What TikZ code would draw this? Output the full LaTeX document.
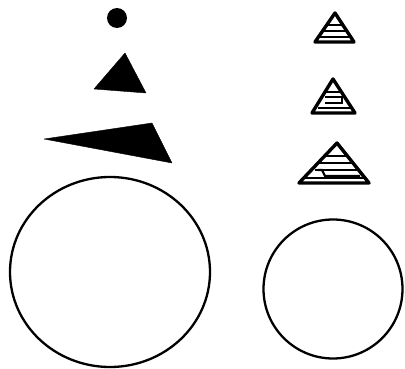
\documentclass[tikz,border=0pt]{standalone}
\begin{document}
\begin{tikzpicture}[x=1pt,y=-1pt,
  solid/.style={fill=black,draw=black,line join=round},
  ring/.style={draw=black,line width=2.3pt},
  htri/.style={draw=black,line width=3.4pt,line join=round},
  stripe/.style={draw=black,line width=2.2pt}]
\useasboundingbox (0,0) rectangle (405,369);
% left column, solid
\fill[black] (117,18) circle (10);
\filldraw[solid] (125,53) -- (94,89) -- (146,93) -- cycle;
\filldraw[solid] (44,139) -- (152,123) -- (172,163) -- cycle;
\draw[ring] (110,272) ellipse [x radius=100, y radius=95];
% right column, hatched triangles
\draw[htri] (335,13) -- (315,42) -- (354,42) -- cycle;
\begin{scope}
  \clip (335,13) -- (315,42) -- (354,42) -- cycle;
  \draw[stripe] (318,25) -- (350,25);
  \draw[stripe] (318,31) -- (350,31);
  \draw[stripe] (318,37) -- (350,37);
\end{scope}
\draw[htri] (333,79) -- (312,113) -- (355,113) -- cycle;
\begin{scope}
  \clip (333,79) -- (312,113) -- (355,113) -- cycle;
  \draw[stripe] (318,92) -- (350,92);
  \draw[stripe] (325,97) -- (342,97) -- (342,103) -- (325,103);
  \draw[stripe] (318,108) -- (350,108);
\end{scope}
\draw[htri] (337,143) -- (299,183) -- (369,183) -- cycle;
\begin{scope}
  \clip (337,143) -- (299,183) -- (369,183) -- cycle;
  \draw[stripe] (315,156) -- (360,156);
  \draw[stripe] (315,163) -- (360,163);
  \draw[stripe] (318,170) -- (322,170) -- (325,176) -- (360,176);
  \draw[stripe] (315,170) -- (360,170);
  \draw[stripe] (305,178) -- (365,178);
\end{scope}
\draw[ring] (333,289) circle (69.5);
\end{tikzpicture}
\end{document}
